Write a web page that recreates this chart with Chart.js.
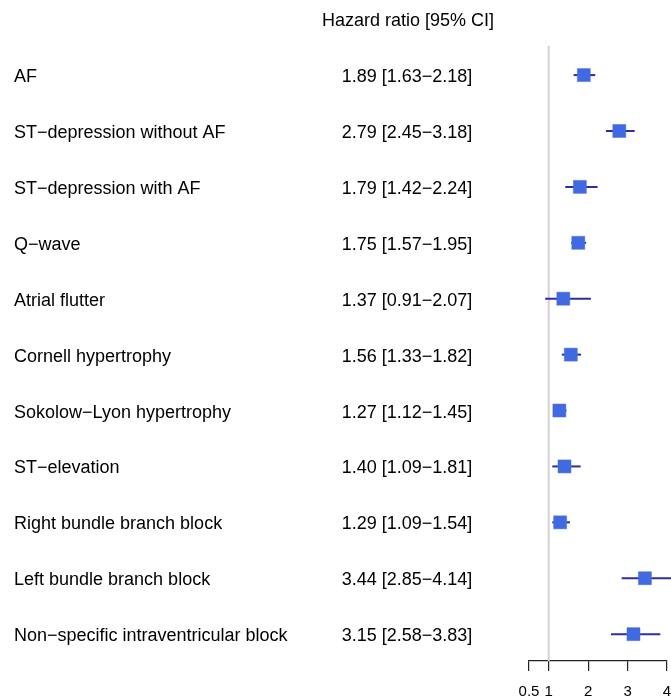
<!DOCTYPE html>
<html lang="en">
<head>
    <meta charset="UTF-8">
    <title>Hazard ratios</title>
    <script src="https://cdn.jsdelivr.net/npm/chart.js"></script>
    <style>
        body { margin: 0; background: #fff; }
    </style>
</head>
<body>
    <canvas id="forestChart" width="671" height="699"></canvas>

    <script>
        // Rows, top to bottom
        const labels = [
            'AF',
            'ST\u2212depression without AF',
            'ST\u2212depression with AF',
            'Q\u2212wave',
            'Atrial flutter',
            'Cornell hypertrophy',
            'Sokolow\u2212Lyon hypertrophy',
            'ST\u2212elevation',
            'Right bundle branch block',
            'Left bundle branch block',
            'Non\u2212specific intraventricular block'
        ];
        const hr    = [1.89, 2.79, 1.79, 1.75, 1.37, 1.56, 1.27, 1.40, 1.29, 3.44, 3.15];
        const lower = [1.63, 2.45, 1.42, 1.57, 0.91, 1.33, 1.12, 1.09, 1.09, 2.85, 2.58];
        const upper = [2.18, 3.18, 2.24, 1.95, 2.07, 1.82, 1.45, 1.81, 1.54, 4.14, 3.83];
        const xTicks = [0.5, 1, 2, 3, 4];

        const font = '"Liberation Sans", Arial, Helvetica, sans-serif';

        // Text columns: labels on the left, HR [CI] in the middle
        const textColumns = {
            id: 'textColumns',
            afterDraw(chart) {
                const ctx = chart.ctx;
                const y = chart.scales.y;
                ctx.save();
                ctx.fillStyle = '#000';
                ctx.textBaseline = 'alphabetic';
                ctx.font = '18px ' + font;
                ctx.textAlign = 'center';
                ctx.fillText('Hazard ratio [95% CI]', 408, 26);
                labels.forEach((name, i) => {
                    const py = y.getPixelForValue(i) + 7;
                    ctx.textAlign = 'left';
                    ctx.fillText(name, 14, py);
                    ctx.textAlign = 'center';
                    const txt = hr[i].toFixed(2) + ' [' + lower[i].toFixed(2) + '\u2212' + upper[i].toFixed(2) + ']';
                    ctx.fillText(txt, 407, py);
                });
                ctx.restore();
            }
        };

        // Confidence interval segments, one per row
        const ciSets = labels.map((name, i) => ({
            type: 'line',
            data: [{ x: lower[i], y: i }, { x: upper[i], y: i }],
            borderColor: '#2e2e9e',
            borderWidth: 2,
            pointRadius: 0,
            clip: false,
            order: 1
        }));

        new Chart(document.getElementById('forestChart'), {
            type: 'scatter',
            data: {
                datasets: [
                    {
                        data: hr.map((v, i) => ({ x: v, y: i })),
                        pointStyle: 'rect',
                        pointRadius: 9.2,
                        backgroundColor: '#4169e1',
                        borderColor: '#4a70e0',
                        borderWidth: 0.5,
                        clip: false,
                        order: 0
                    },
                    ...ciSets,
                    {
                        type: 'line',
                        data: [{ x: 1, y: -0.52 }, { x: 1, y: 10.48 }],
                        borderColor: '#d3d3d3',
                        borderWidth: 2,
                        pointRadius: 0,
                        clip: false,
                        order: 2
                    }
                ]
            },
            options: {
                responsive: false,
                animation: false,
                layout: { autoPadding: false, padding: { left: 529, right: 4, top: 46, bottom: 0 } },
                plugins: {
                    legend: { display: false },
                    tooltip: { enabled: false }
                },
                scales: {
                    x: {
                        type: 'linear',
                        min: 0.5,
                        max: 4,
                        afterBuildTicks: scale => { scale.ticks = xTicks.map(v => ({ value: v })); },
                        afterFit: scale => {
                            scale.height = 38;
                            scale.paddingLeft = 0;
                            scale.paddingRight = 0;
                        },
                        grid: { drawOnChartArea: false, drawTicks: true, tickLength: 10, color: '#222', lineWidth: 1.2 },
                        border: { display: true, color: '#222', width: 1.2 },
                        ticks: {
                            autoSkip: false,
                            maxRotation: 0,
                            padding: 12,
                            color: '#000',
                            font: { family: font, size: 15 }
                        }
                    },
                    y: {
                        type: 'linear',
                        display: false,
                        reverse: true,
                        min: -0.52,
                        max: 10.48
                    }
                }
            },
            plugins: [textColumns]
        });
    </script>
</body>
</html>
